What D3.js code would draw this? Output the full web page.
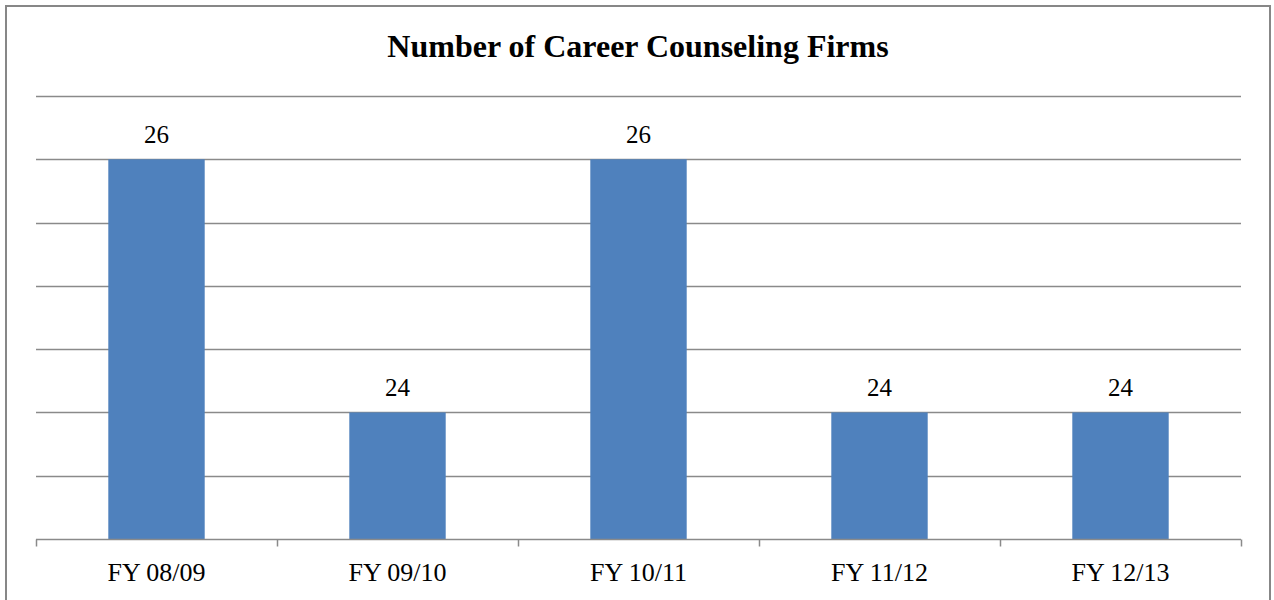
<!DOCTYPE html>
<html>
<head>
<meta charset="utf-8">
<script src="https://cdn.jsdelivr.net/npm/d3@7"></script>
<style>
  html, body { margin: 0; padding: 0; background: #fff; }
  svg { display: block; }
  svg text { font-family: "Liberation Serif", "Times New Roman", serif !important; fill: #000; }
</style>
</head>
<body>
<svg id="chart" width="1274" height="600"></svg>
<script>
// Chart data
const categories = ["FY 08/09", "FY 09/10", "FY 10/11", "FY 11/12", "FY 12/13"];
const firmCounts = [26, 24, 26, 24, 24];
const gridValues = [23, 23.5, 24, 24.5, 25, 25.5, 26, 26.5];
const chartTitle = "Number of Career Counseling Firms";

const svg = d3.select("#chart");
const plot = { left: 36, right: 1241, top: 96, bottom: 539 };

// Outer frame
svg.append("rect")
  .attr("x", 6).attr("y", 6)
  .attr("width", 1264).attr("height", 604)
  .attr("fill", "#fff")
  .attr("stroke", "#878787")
  .attr("stroke-width", 2);

// Title
svg.append("text")
  .attr("x", 638).attr("y", 57)
  .attr("text-anchor", "middle")
  .attr("font-size", 32)
  .attr("font-weight", "bold")
  .text(chartTitle);

const x = d3.scaleBand()
  .domain(categories)
  .range([plot.left, plot.right])
  .padding(0);

const y = d3.scaleLinear()
  .domain([23, 26.5])
  .range([plot.bottom, plot.top]);

// Horizontal gridlines
svg.append("g")
  .selectAll("line")
  .data(gridValues.filter(v => v !== 23))
  .join("line")
  .attr("x1", plot.left).attr("x2", plot.right)
  .attr("y1", d => Math.round(y(d)) + 0.5)
  .attr("y2", d => Math.round(y(d)) + 0.5)
  .attr("stroke", "#8a8a8a")
  .attr("stroke-width", 1.5);

// Bars
const barW = x.bandwidth() * 0.4;
const rows = categories.map((c, i) => ({ c, v: firmCounts[i] }));
svg.append("g")
  .selectAll("rect")
  .data(rows)
  .join("rect")
  .attr("x", d => x(d.c) + (x.bandwidth() - barW) / 2)
  .attr("y", d => y(d.v))
  .attr("width", barW)
  .attr("height", d => y(23) - y(d.v))
  .attr("fill", "#4f81bd");

// Value labels
svg.append("g")
  .selectAll("text")
  .data(rows)
  .join("text")
  .attr("x", d => x(d.c) + x.bandwidth() / 2)
  .attr("y", d => y(d.v) - 16)
  .attr("text-anchor", "middle")
  .attr("font-size", 25)
  .text(d => d.v);

// Category axis
const axis = svg.append("g")
  .attr("transform", `translate(0,${Math.round(y(23)) + 0.5})`)
  .call(d3.axisBottom(x).tickSize(0).tickPadding(0));
axis.attr("font-family", null).attr("font-size", null);
axis.select(".domain").remove();
axis.selectAll(".tick text")
  .attr("y", 41)
  .attr("dy", 0)
  .attr("font-size", 26)
  .attr("fill", "#000");

axis.append("line")
  .attr("x1", plot.left).attr("x2", plot.right)
  .attr("y1", 0).attr("y2", 0)
  .attr("stroke", "#8a8a8a")
  .attr("stroke-width", 1.5);

const boundaries = categories.map(c => x(c)).concat([x.range()[1]]);
axis.selectAll(".bound")
  .data(boundaries)
  .join("line")
  .attr("class", "bound")
  .attr("x1", d => Math.round(d) + 0.5).attr("x2", d => Math.round(d) + 0.5)
  .attr("y1", 0).attr("y2", 7)
  .attr("stroke", "#8a8a8a")
  .attr("stroke-width", 1.5);
</script>
</body>
</html>
